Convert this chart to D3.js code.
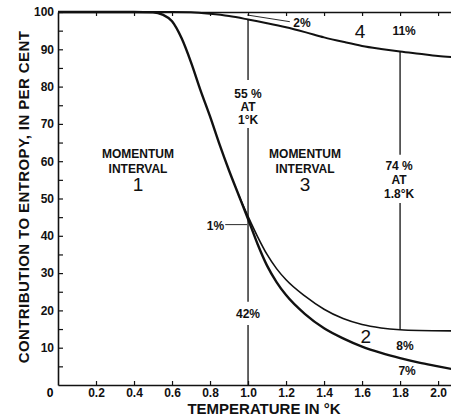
<!doctype html>
<html>
  <head>
    <script src="https://cdnjs.cloudflare.com/ajax/libs/d3/7.8.5/d3.min.js"></script>
    <style>
      body { margin: 0; background: #fff; }
      svg { font-family: "Liberation Sans", Arial, sans-serif; }
      .axis text { font-size: 12px; font-weight: bold; fill: #111; }
      .lbl { font-size: 12px; font-weight: bold; fill: #111; }
      .big { font-size: 19px; font-weight: normal; fill: #111; }
    </style>
  </head>
  <body>
    <svg width="451" height="416"></svg>
    <script>
      // temperatures (K) and cumulative contribution (%) of momentum intervals
      var lowT   = [0, 0.4, 0.5, 0.55, 0.6, 0.65, 0.7, 0.75, 0.8, 0.85, 0.9, 0.95, 1.0, 1.05, 1.1, 1.15, 1.2, 1.3, 1.4, 1.5, 1.6, 1.7, 1.8, 1.9, 2.0, 2.07];
      var lowV   = [100, 100, 99.9, 99.3, 97.5, 93, 86.5, 79, 72, 64.5, 57.5, 51, 44.5, 37.8, 32, 27.6, 24.1, 19, 15.2, 12.5, 10.3, 8.6, 7.2, 6, 5, 4.3];
      var midT   = [0.95, 1.0, 1.05, 1.1, 1.15, 1.2, 1.3, 1.4, 1.5, 1.6, 1.7, 1.8, 1.9, 2.07];
      var midV   = [51, 45.2, 39.8, 35, 31.2, 28.2, 23.8, 20.3, 17.8, 16.2, 15.3, 14.8, 14.6, 14.5];
      var topT   = [0, 0.6, 0.7, 0.8, 0.9, 1.0, 1.1, 1.2, 1.3, 1.4, 1.5, 1.6, 1.7, 1.8, 1.9, 2.0, 2.07];
      var topV   = [100, 100, 99.9, 99.5, 98.9, 98, 97, 95.9, 94.6, 93.2, 92, 90.9, 90.1, 89.4, 88.8, 88.2, 87.9];

      var xTicks = [0.2, 0.4, 0.6, 0.8, 1.0, 1.2, 1.4, 1.6, 1.8, 2.0];
      var yTicks = [10, 20, 30, 40, 50, 60, 70, 80, 90, 100];
      var yMinor = [5, 15, 25, 35, 45, 55, 65, 75, 85, 95];

      // vertical marker lines: [T, from %, to %]
      var markers = [[1.0, 98, 81.8], [1.0, 68.9, 22.3], [1.0, 16.1, 0],
                     [1.8, 89.4, 61.7], [1.8, 48.8, 14.8]];
      var leaders = [[0.995, 99.2, 1.22, 97.4], [0.88, 43, 0.995, 43]];

      // annotations: [text, T, %, class, anchor]
      var notes = [
        ["2%", 1.284, 96.0, "lbl", "middle"],
        ["4", 1.589, 92.9, "big", "middle"],
        ["11%", 1.821, 93.8, "lbl", "middle"],
        ["55 %", 1.0, 76.9, "lbl", "middle"],
        ["AT", 1.0, 73.4, "lbl", "middle"],
        ["1°K", 1.0, 69.9, "lbl", "middle"],
        ["MOMENTUM", 0.421, 60.9, "lbl", "middle"],
        ["INTERVAL", 0.421, 56.9, "lbl", "middle"],
        ["1", 0.421, 52.0, "big", "middle"],
        ["MOMENTUM", 1.30, 60.9, "lbl", "middle"],
        ["INTERVAL", 1.30, 56.9, "lbl", "middle"],
        ["3", 1.30, 52.0, "big", "middle"],
        ["74 %", 1.795, 57.6, "lbl", "middle"],
        ["AT", 1.795, 53.9, "lbl", "middle"],
        ["1.8°K", 1.795, 50.1, "lbl", "middle"],
        ["1%", 0.874, 41.6, "lbl", "end"],
        ["42%", 1.0, 18.0, "lbl", "middle"],
        ["2", 1.62, 11.3, "big", "middle"],
        ["8%", 1.826, 9.4, "lbl", "middle"],
        ["7%", 1.837, 2.7, "lbl", "middle"]
      ];

      var svg = d3.select("svg");
      var x = d3.scaleLinear().domain([0, 2.068]).range([58, 451]);
      var y = d3.scaleLinear().domain([0, 100]).range([385, 12]);

      // axes with inward ticks
      svg.append("g").attr("class", "axis")
        .attr("transform", "translate(58,0)")
        .call(d3.axisLeft(y).tickValues(yTicks.concat(yMinor)).tickSize(-5).tickSizeOuter(0).tickPadding(4)
          .tickFormat(d => yTicks.indexOf(d) >= 0 ? d : ""));
      svg.append("g").attr("class", "axis")
        .attr("transform", "translate(0,385)")
        .call(d3.axisBottom(x).tickValues(xTicks).tickSize(-4).tickSizeOuter(0).tickPadding(3)
          .tickFormat(d3.format(".1f")));
      svg.append("g").attr("class", "axis")
        .attr("transform", "translate(0,12)")
        .call(d3.axisTop(x).tickValues(xTicks).tickSize(-4).tickSizeOuter(0).tickFormat(""));
      svg.selectAll(".axis path").attr("stroke", "#111").attr("stroke-width", 1.6);
      svg.selectAll(".axis line").attr("stroke", "#111").attr("stroke-width", 1.2);

      svg.append("text").attr("class", "axis").attr("x", 50).attr("y", 397)
        .attr("text-anchor", "middle").style("font-size", "12px").style("font-weight", "bold").text("0");

      svg.append("text").attr("x", 264).attr("y", 414).attr("text-anchor", "middle")
        .style("font-size", "15px").style("font-weight", "bold").attr("fill", "#111")
        .text("TEMPERATURE IN °K");
      svg.append("text").attr("transform", "translate(29,197) rotate(-90)").attr("text-anchor", "middle")
        .style("font-size", "15px").style("font-weight", "bold").style("letter-spacing", "0.4px").attr("fill", "#111")
        .text("CONTRIBUTION TO ENTROPY, IN PER CENT");

      var line = d3.line().x(d => x(d[0])).y(d => y(d[1])).curve(d3.curveMonotoneX);
      [[lowT, lowV, 2.4], [midT, midV, 1.6], [topT, topV, 2]].forEach(function (s) {
        svg.append("path").datum(d3.zip(s[0], s[1]))
          .attr("d", line).attr("fill", "none").attr("stroke", "#111").attr("stroke-width", s[2]);
      });

      svg.selectAll(".mk").data(markers).enter().append("line")
        .attr("x1", d => x(d[0])).attr("x2", d => x(d[0]))
        .attr("y1", d => y(d[1])).attr("y2", d => y(d[2]))
        .attr("stroke", "#111").attr("stroke-width", 1.3);

      svg.selectAll(".ld").data(leaders).enter().append("line")
        .attr("x1", d => x(d[0])).attr("y1", d => y(d[1]))
        .attr("x2", d => x(d[2])).attr("y2", d => y(d[3]))
        .attr("stroke", "#111").attr("stroke-width", 0.9);

      svg.selectAll(".nt").data(notes).enter().append("text")
        .attr("class", d => d[3])
        .attr("x", d => x(d[1])).attr("y", d => y(d[2]))
        .attr("text-anchor", d => d[4])
        .text(d => d[0]);
    </script>
  </body>
</html>
